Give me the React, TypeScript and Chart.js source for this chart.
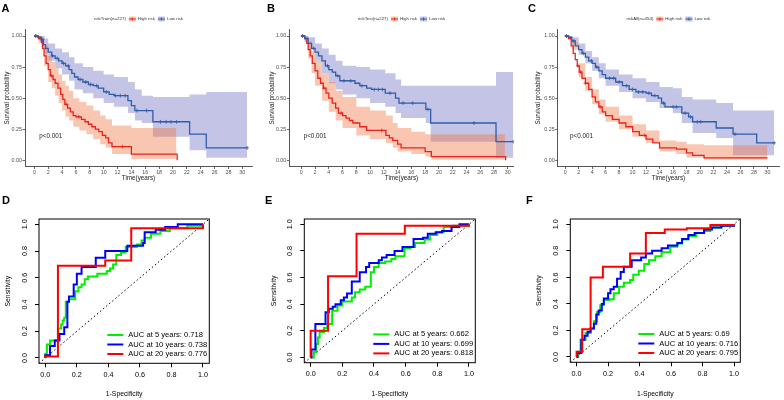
import React, { useEffect, useRef } from "react";
import { Chart, registerables } from "chart.js";

Chart.register(...registerables);

const FONT = "'Liberation Sans', Arial, Helvetica, sans-serif";
Chart.defaults.font.family = FONT;

// ---------- tick labels ----------
const kmXTicks = [0, 2, 4, 6, 8, 10, 12, 14, 16, 18, 20, 22, 24, 26, 28, 30];
const kmYTicks = [0, 0.25, 0.5, 0.75, 1];
const rocTicks = [0, 0.2, 0.4, 0.6, 0.8, 1.0];

// ---------- text ----------
const panelLetters = ["A", "B", "C", "D", "E", "F"];
const groupLabels = ["High risk", "Low risk"];
const kmTitles = ["riskTrain(n=227)", "riskTest(n=227)", "riskAll(n=454)"];
const pvalText = "p<0.001";
const rocLabelsD = ["AUC at 5 years: 0.718", "AUC at 10 years: 0.738", "AUC at 20 years: 0.776"];
const rocLabelsE = ["AUC at 5 years: 0.662", "AUC at 10 years: 0.699", "AUC at 20 years: 0.818"];
const rocLabelsF = ["AUC at 5 years: 0.69", "AUC at 10 years: 0.716", "AUC at 20 years: 0.795"];

// ---------- KM panel A (train) ----------
const aHighT = [0, 0.6, 1.0, 1.2, 1.4, 1.7, 2.0, 2.3, 2.7, 3.0, 3.4, 3.8, 4.1, 4.4, 4.8, 5.2, 5.6, 6.0, 6.8, 7.3, 7.8, 8.3, 8.8, 9.3, 9.8, 10.3, 10.7, 11.2, 14.0, 20.5, 20.6];
const aHighS = [1.0, 0.98, 0.95, 0.9, 0.84, 0.78, 0.73, 0.68, 0.65, 0.62, 0.58, 0.53, 0.49, 0.45, 0.42, 0.39, 0.36, 0.35, 0.33, 0.31, 0.29, 0.27, 0.25, 0.23, 0.2, 0.18, 0.14, 0.11, 0.05, 0.05, 0.0];
const aHighCens = [0.2, 2.5, 4.6, 6.4, 12.7];
const aHighCiT = [0, 0.6, 1.0, 1.4, 2.0, 2.5, 3.0, 3.5, 4.0, 4.5, 5.0, 5.6, 6.5, 7.5, 8.5, 9.5, 10.3, 11.2, 14.0, 20.5];
const aHighUp = [1.0, 1.0, 0.99, 0.93, 0.84, 0.79, 0.74, 0.69, 0.64, 0.6, 0.56, 0.5, 0.47, 0.44, 0.4, 0.36, 0.33, 0.28, 0.26, 0.26];
const aHighLo = [1.0, 0.95, 0.91, 0.76, 0.63, 0.58, 0.52, 0.46, 0.4, 0.35, 0.32, 0.27, 0.24, 0.21, 0.17, 0.13, 0.1, 0.05, 0.01, 0.01];
const aLowT = [0, 0.5, 1.0, 1.3, 1.6, 2.0, 2.5, 3.0, 3.5, 4.0, 4.5, 5.0, 5.4, 5.8, 6.3, 7.0, 7.8, 8.5, 9.2, 10.0, 10.8, 11.5, 13.5, 14.0, 14.5, 17.1, 22.4, 24.8, 30.7];
const aLowS = [1.0, 0.99, 0.97, 0.93, 0.9, 0.87, 0.84, 0.82, 0.8, 0.78, 0.76, 0.73, 0.7, 0.67, 0.65, 0.63, 0.61, 0.6, 0.58, 0.55, 0.53, 0.52, 0.48, 0.44, 0.4, 0.31, 0.21, 0.1, 0.1];
const aLowCens = [0.2, 1.2, 2.6, 3.3, 4.2, 4.9, 6.6, 7.4, 8.1, 9.0, 10.4, 11.7, 12.4, 13.1, 14.8, 16.2, 18.2, 19.0, 19.7, 20.5, 30.7];
const aLowCiT = [0, 0.5, 1.0, 1.5, 2.0, 3.0, 4.0, 5.0, 5.8, 7.0, 8.5, 10.0, 11.5, 13.5, 14.5, 15.5, 17.1, 22.4, 24.8, 30.7];
const aLowUp = [1.0, 1.0, 1.0, 0.98, 0.94, 0.9, 0.87, 0.83, 0.78, 0.75, 0.72, 0.69, 0.67, 0.63, 0.57, 0.52, 0.51, 0.53, 0.55, 0.55];
const aLowLo = [1.0, 0.97, 0.93, 0.86, 0.8, 0.74, 0.69, 0.64, 0.57, 0.54, 0.5, 0.46, 0.43, 0.38, 0.32, 0.3, 0.19, 0.08, 0.02, 0.02];

// ---------- KM panel B (test) ----------
const bHighT = [0, 0.5, 0.8, 1.0, 1.3, 1.6, 2.0, 2.4, 2.8, 3.2, 3.6, 4.0, 4.5, 5.0, 5.4, 6.0, 6.5, 7.0, 7.5, 8.5, 9.5, 12.3, 12.8, 13.3, 14.0, 14.5, 18.0, 18.9, 29.6, 29.7];
const bHighS = [1.0, 0.98, 0.94, 0.89, 0.84, 0.78, 0.72, 0.66, 0.62, 0.58, 0.54, 0.5, 0.46, 0.42, 0.38, 0.36, 0.34, 0.32, 0.3, 0.27, 0.24, 0.2, 0.18, 0.16, 0.13, 0.1, 0.07, 0.03, 0.03, 0.0];
const bHighCens = [0.2, 3.3, 5.8, 11.7];
const bHighCiT = [0, 0.5, 1.0, 1.5, 2.0, 3.0, 4.0, 5.0, 6.0, 8.0, 10.0, 12.3, 13.3, 14.0, 16.0, 18.0, 18.9, 29.6];
const bHighUp = [1.0, 1.0, 0.96, 0.88, 0.8, 0.7, 0.63, 0.56, 0.51, 0.43, 0.4, 0.36, 0.3, 0.26, 0.23, 0.21, 0.21, 0.21];
const bHighLo = [1.0, 0.95, 0.82, 0.7, 0.6, 0.48, 0.39, 0.32, 0.26, 0.2, 0.17, 0.14, 0.1, 0.07, 0.05, 0.03, 0.005, 0.005];
const bLowT = [0, 0.5, 1.0, 1.5, 2.0, 2.5, 3.0, 3.5, 4.0, 4.5, 5.0, 5.6, 7.8, 8.5, 9.5, 10.2, 12.2, 13.7, 14.2, 18.1, 18.8, 28.3, 30.8];
const bLowS = [1.0, 0.98, 0.94, 0.9, 0.87, 0.84, 0.8, 0.76, 0.73, 0.71, 0.68, 0.64, 0.62, 0.6, 0.58, 0.57, 0.54, 0.5, 0.46, 0.41, 0.3, 0.15, 0.15];
const bLowCens = [0.2, 1.8, 3.8, 5.3, 6.2, 7.2, 8.8, 10.6, 11.2, 11.8, 12.9, 14.8, 16.2, 18.4, 25.1, 30.8];
const bLowCiT = [0, 0.5, 1.0, 2.0, 3.0, 4.0, 5.0, 6.0, 8.0, 10.0, 12.2, 13.7, 14.5, 18.1, 18.8, 28.3, 30.8];
const bLowUp = [1.0, 1.0, 0.99, 0.94, 0.9, 0.85, 0.8, 0.76, 0.75, 0.73, 0.7, 0.65, 0.6, 0.6, 0.6, 0.71, 0.71];
const bLowLo = [1.0, 0.96, 0.89, 0.8, 0.7, 0.62, 0.57, 0.53, 0.5, 0.46, 0.43, 0.38, 0.34, 0.3, 0.15, 0.02, 0.02];

// ---------- KM panel C (all) ----------
const cHighT = [0, 0.5, 0.9, 1.2, 1.5, 1.8, 2.1, 2.5, 3.0, 3.5, 4.0, 4.5, 5.0, 5.5, 6.0, 7.0, 8.0, 9.0, 10.0, 11.0, 12.0, 13.0, 14.0, 16.5, 18.0, 18.9, 20.6, 30.0];
const cHighS = [1.0, 0.98, 0.92, 0.86, 0.81, 0.76, 0.71, 0.66, 0.62, 0.57, 0.51, 0.47, 0.43, 0.39, 0.36, 0.33, 0.3, 0.27, 0.23, 0.2, 0.17, 0.14, 0.1, 0.09, 0.06, 0.04, 0.02, 0.02];
const cHighCens = [0.2, 1.9, 2.3, 3.0, 5.2, 11.8];
const cHighCiT = [0, 0.5, 1.0, 2.0, 3.0, 4.0, 5.0, 6.0, 8.0, 10.0, 12.0, 14.0, 16.5, 18.0, 20.6, 30.0];
const cHighUp = [1.0, 1.0, 0.95, 0.78, 0.67, 0.57, 0.49, 0.43, 0.36, 0.29, 0.24, 0.16, 0.15, 0.13, 0.12, 0.12];
const cHighLo = [1.0, 0.97, 0.89, 0.67, 0.56, 0.45, 0.37, 0.31, 0.25, 0.19, 0.14, 0.07, 0.05, 0.02, 0.005, 0.005];
const cLowT = [0, 0.5, 1.0, 1.5, 2.0, 2.5, 3.0, 3.5, 4.0, 4.5, 5.0, 5.5, 6.0, 7.5, 8.5, 9.5, 10.5, 12.0, 12.8, 13.8, 14.3, 14.8, 17.3, 18.3, 18.9, 22.4, 24.9, 28.4, 31.0];
const cLowS = [1.0, 0.99, 0.96, 0.92, 0.89, 0.86, 0.83, 0.8, 0.78, 0.75, 0.72, 0.69, 0.66, 0.63, 0.6, 0.57, 0.55, 0.54, 0.52, 0.5, 0.46, 0.43, 0.38, 0.35, 0.31, 0.26, 0.21, 0.14, 0.14];
const cLowCens = [0.2, 1.3, 2.7, 3.9, 4.7, 6.6, 7.2, 8.0, 9.1, 10.0, 10.9, 11.5, 12.4, 13.3, 14.6, 16.0, 16.5, 17.8, 18.6, 19.6, 20.1, 25.2, 31.0];
const cLowCiT = [0, 0.5, 1.0, 2.0, 3.0, 4.0, 5.0, 6.0, 8.0, 10.0, 12.0, 14.0, 16.0, 17.3, 18.9, 22.4, 24.9, 28.4, 31.0];
const cLowUp = [1.0, 1.0, 0.99, 0.94, 0.88, 0.83, 0.78, 0.73, 0.69, 0.66, 0.63, 0.59, 0.58, 0.51, 0.49, 0.46, 0.4, 0.4, 0.4];
const cLowLo = [1.0, 0.98, 0.93, 0.85, 0.78, 0.72, 0.66, 0.6, 0.55, 0.5, 0.47, 0.42, 0.38, 0.3, 0.22, 0.18, 0.04, 0.04, 0.04];

// ---------- ROC panel D ----------
const dGreenX = [0, 0, 0.01, 0.03, 0.08, 0.1, 0.11, 0.12, 0.13, 0.15, 0.19, 0.21, 0.23, 0.25, 0.27, 0.33, 0.39, 0.41, 0.43, 0.45, 0.48, 0.51, 0.58, 0.61, 0.63, 0.67, 0.73, 0.79, 0.9, 1.0];
const dGreenY = [0, 0.03, 0.1, 0.13, 0.22, 0.25, 0.28, 0.3, 0.42, 0.44, 0.5, 0.53, 0.55, 0.59, 0.61, 0.63, 0.65, 0.67, 0.7, 0.77, 0.79, 0.83, 0.85, 0.88, 0.9, 0.93, 0.95, 0.97, 0.99, 1.0];
const dBlueX = [0, 0, 0.03, 0.06, 0.09, 0.12, 0.14, 0.15, 0.18, 0.2, 0.23, 0.32, 0.38, 0.52, 0.62, 0.63, 0.7, 0.76, 0.84, 1.0];
const dBlueY = [0, 0.02, 0.09, 0.13, 0.18, 0.23, 0.42, 0.46, 0.55, 0.63, 0.68, 0.75, 0.8, 0.84, 0.86, 0.94, 0.96, 0.98, 1.0, 1.0];
const dRedX = [0, 0, 0.08, 0.38, 0.545, 1.0];
const dRedY = [0, 0.01, 0.69, 0.73, 0.97, 1.0];

// ---------- ROC panel E ----------
const eGreenX = [0, 0.02, 0.035, 0.046, 0.057, 0.084, 0.105, 0.136, 0.17, 0.2, 0.26, 0.28, 0.31, 0.345, 0.38, 0.4, 0.43, 0.47, 0.51, 0.535, 0.593, 0.63, 0.66, 0.72, 0.755, 0.8, 0.84, 0.9, 1.0];
const eGreenY = [0, 0.04, 0.1, 0.15, 0.19, 0.22, 0.25, 0.35, 0.39, 0.42, 0.45, 0.49, 0.51, 0.53, 0.64, 0.68, 0.71, 0.72, 0.74, 0.76, 0.82, 0.83, 0.86, 0.885, 0.92, 0.94, 0.98, 0.99, 1.0];
const eBlueX = [0, 0.005, 0.03, 0.094, 0.115, 0.14, 0.157, 0.19, 0.21, 0.23, 0.26, 0.31, 0.35, 0.37, 0.43, 0.45, 0.48, 0.53, 0.58, 0.65, 0.71, 0.74, 0.79, 0.83, 0.89, 0.94, 1.0];
const eBlueY = [0, 0.06, 0.25, 0.34, 0.365, 0.38, 0.4, 0.43, 0.45, 0.48, 0.57, 0.64, 0.68, 0.71, 0.73, 0.75, 0.77, 0.8, 0.83, 0.89, 0.9, 0.93, 0.94, 0.95, 0.98, 1.0, 1.0];
const eRedX = [0, 0, 0.11, 0.29, 0.595, 1.0];
const eRedY = [0, 0.2, 0.61, 0.93, 0.99, 1.0];

// ---------- ROC panel F ----------
const fGreenX = [0, 0.01, 0.025, 0.057, 0.089, 0.11, 0.13, 0.15, 0.173, 0.21, 0.236, 0.27, 0.3, 0.34, 0.36, 0.395, 0.43, 0.46, 0.5, 0.54, 0.595, 0.64, 0.67, 0.71, 0.76, 0.81, 0.85, 0.92, 1.0];
const fGreenY = [0, 0.04, 0.13, 0.18, 0.215, 0.27, 0.34, 0.39, 0.43, 0.435, 0.48, 0.53, 0.56, 0.58, 0.62, 0.65, 0.7, 0.73, 0.76, 0.79, 0.83, 0.855, 0.885, 0.91, 0.935, 0.95, 0.975, 0.99, 1.0];
const fBlueX = [0, 0.005, 0.03, 0.05, 0.07, 0.089, 0.11, 0.125, 0.14, 0.16, 0.173, 0.2, 0.215, 0.236, 0.257, 0.28, 0.3, 0.35, 0.41, 0.44, 0.48, 0.54, 0.58, 0.64, 0.67, 0.71, 0.75, 0.81, 0.86, 0.92, 1.0];
const fBlueY = [0, 0.03, 0.13, 0.16, 0.19, 0.215, 0.25, 0.32, 0.35, 0.4, 0.44, 0.48, 0.51, 0.53, 0.59, 0.64, 0.68, 0.73, 0.75, 0.78, 0.8, 0.82, 0.84, 0.86, 0.89, 0.92, 0.935, 0.96, 0.975, 0.99, 1.0];
const fRedX = [0, 0, 0.036, 0.089, 0.167, 0.34, 0.44, 0.56, 0.7, 0.85, 1.0];
const fRedY = [0, 0.04, 0.21, 0.6, 0.68, 0.78, 0.935, 0.96, 0.97, 0.995, 1.0];

// reference diagonal (spans the whole plot box)
const diagX = [-0.04, 1.04];
const diagY = [-0.04, 1.04];

// ---------- colours ----------
const KM_RED = "#E8231F";
const KM_BLUE = "#2F5DAA";
const BAND_RED = "rgba(240,115,60,0.40)";
const BAND_BLUE = "rgba(60,62,172,0.30)";
const ROC_COLORS = ["#00EE00", "#0000FF", "#FF0000"];

const pts = (xs: number[], ys: number[]) => xs.map((x, i) => ({ x, y: ys[i] }));

// value of a step (Kaplan-Meier) curve at time t
const survAt = (T: number[], S: number[], t: number) => {
  let v = S[0];
  for (let i = 0; i < T.length; i++) if (T[i] <= t) v = S[i];
  return v;
};

type KMPanel = {
  title: string;
  high: [number[], number[]];
  highCens: number[];
  highCi: [number[], number[], number[]];
  low: [number[], number[]];
  lowCens: number[];
  lowCi: [number[], number[], number[]];
  xmin: number;
  xmax: number;
  yWidth: number;
  padRight: number;
  yTitlePad: number;
  pvalX: number;
};

const kmExtras = {
  id: "kmExtras",
  afterDraw(chart: any, _args: any, opts: any) {
    const { ctx, chartArea, scales } = chart;
    ctx.save();
    // p-value
    ctx.font = `6.3px ${FONT}`;
    ctx.fillStyle = "#222";
    ctx.textBaseline = "middle";
    ctx.textAlign = "left";
    ctx.fillText(pvalText, scales.x.getPixelForValue(opts.pvalX), scales.y.getPixelForValue(0.195));
    // legend
    ctx.font = `4.4px ${FONT}`;
    const sw = 7;
    const items = [
      { text: groupLabels[0], line: KM_RED, band: BAND_RED },
      { text: groupLabels[1], line: KM_BLUE, band: BAND_BLUE },
    ];
    const titleW = ctx.measureText(opts.title).width;
    let total = titleW;
    items.forEach((it) => (total += 3 + sw + 2 + ctx.measureText(it.text).width));
    let x = (chartArea.left + chartArea.right) / 2 - total / 2;
    const y = 19;
    ctx.fillStyle = "#333";
    ctx.fillText(opts.title, x, y);
    x += titleW;
    items.forEach((it) => {
      x += 3;
      ctx.fillStyle = it.band;
      ctx.fillRect(x, y - 2.5, sw, 5);
      ctx.strokeStyle = it.line;
      ctx.lineWidth = 1;
      ctx.beginPath();
      ctx.moveTo(x, y);
      ctx.lineTo(x + sw, y);
      ctx.moveTo(x + sw / 2, y - 1.5);
      ctx.lineTo(x + sw / 2, y + 1.5);
      ctx.stroke();
      x += sw + 2;
      ctx.fillStyle = "#333";
      ctx.fillText(it.text, x, y);
      x += ctx.measureText(it.text).width;
    });
    ctx.restore();
  },
};

function kmConfig(p: KMPanel): any {
  const line = (d: [number[], number[]], color: string, label: string, order: number) => ({
    label,
    data: pts(d[0], d[1]),
    borderColor: color,
    borderWidth: 1.3,
    stepped: "before",
    pointRadius: 0,
    fill: false,
    order,
  });
  const cens = (d: [number[], number[]], times: number[], color: string, order: number) => ({
    data: times.map((t) => ({ x: t, y: survAt(d[0], d[1], t) })),
    showLine: false,
    pointStyle: "cross",
    pointRadius: 1.9,
    pointBorderWidth: 0.8,
    borderColor: color,
    pointBorderColor: color,
    fill: false,
    order,
  });
  const bandUp = (d: [number[], number[], number[]], order: number) => ({
    data: pts(d[0], d[1]),
    borderColor: "transparent",
    borderWidth: 0,
    stepped: "before",
    pointRadius: 0,
    fill: false,
    order,
  });
  const bandLo = (d: [number[], number[], number[]], color: string, order: number) => ({
    data: pts(d[0], d[2]),
    borderColor: "transparent",
    borderWidth: 0,
    stepped: "before",
    pointRadius: 0,
    fill: "-1",
    backgroundColor: color,
    order,
  });
  return {
    type: "line",
    data: {
      datasets: [
        line(p.high, KM_RED, groupLabels[0], 1),
        line(p.low, KM_BLUE, groupLabels[1], 0),
        bandUp(p.lowCi, 3),
        bandLo(p.lowCi, BAND_BLUE, 3),
        bandUp(p.highCi, 2),
        bandLo(p.highCi, BAND_RED, 2),
        cens(p.high, p.highCens, KM_RED, 1),
        cens(p.low, p.lowCens, KM_BLUE, 0),
      ],
    },
    options: {
      responsive: false,
      animation: false,
      devicePixelRatio: 1,
      layout: { padding: { left: 0, top: 29.8, right: p.padRight, bottom: 0 } },
      plugins: {
        legend: { display: false },
        tooltip: { enabled: false },
        kmExtras: { title: p.title, pvalX: p.pvalX },
      },
      scales: {
        x: {
          type: "linear",
          min: p.xmin,
          max: p.xmax,
          afterBuildTicks: (s: any) => {
            s.ticks = kmXTicks.map((v) => ({ value: v }));
          },
          afterFit: (s: any) => {
            s.height = 33.5;
          },
          grid: { display: true, drawOnChartArea: false, drawTicks: true, tickLength: 2.5, color: "#444", lineWidth: 0.8 },
          border: { display: true, color: "#555", width: 1 },
          ticks: { font: { size: 5.3 }, color: "#4d4d4d", padding: 0.8, maxRotation: 0, autoSkip: false, callback: (v: any) => String(v) },
          title: { display: true, text: "Time(years)", font: { size: 6.3 }, color: "#222", padding: { top: 0, bottom: 18.2 } },
        },
        y: {
          type: "linear",
          min: -0.05,
          max: 1.05,
          afterBuildTicks: (s: any) => {
            s.ticks = kmYTicks.map((v) => ({ value: v }));
          },
          afterFit: (s: any) => {
            s.width = p.yWidth;
          },
          grid: { display: true, drawOnChartArea: false, drawTicks: true, tickLength: 2.5, color: "#444", lineWidth: 0.8 },
          border: { display: true, color: "#555", width: 1 },
          ticks: { font: { size: 5.3 }, color: "#4d4d4d", padding: 0.6, callback: (v: any) => Number(v).toFixed(2) },
          title: { display: true, text: "Survival probability", font: { size: 6.3 }, color: "#222", padding: { top: p.yTitlePad, bottom: 0 } },
        },
      },
    },
    plugins: [kmExtras],
  };
}

type ROCPanel = {
  green: [number[], number[]];
  blue: [number[], number[]];
  red: [number[], number[]];
  labels: string[];
  yWidth: number;
  xHeight: number;
  padRight: number;
  yTitlePad: number;
};

const rocExtras = {
  id: "rocExtras",
  afterDraw(chart: any, _args: any, opts: any) {
    const { ctx, chartArea } = chart;
    ctx.save();
    ctx.strokeStyle = "#000";
    ctx.lineWidth = 1;
    ctx.strokeRect(chartArea.left, chartArea.top, chartArea.right - chartArea.left, chartArea.bottom - chartArea.top);
    ctx.font = `7.6px ${FONT}`;
    ctx.textBaseline = "middle";
    ctx.textAlign = "left";
    opts.labels.forEach((t: string, i: number) => {
      const y = chartArea.bottom - 28.3 + i * 9.5;
      ctx.strokeStyle = ROC_COLORS[i];
      ctx.lineWidth = 2;
      ctx.beginPath();
      ctx.moveTo(chartArea.right - 102, y);
      ctx.lineTo(chartArea.right - 86, y);
      ctx.stroke();
      ctx.fillStyle = "#000";
      ctx.fillText(t, chartArea.right - 81, y);
    });
    ctx.restore();
  },
};

function rocConfig(p: ROCPanel): any {
  const curve = (d: [number[], number[]], color: string, order: number) => ({
    data: pts(d[0], d[1]),
    borderColor: color,
    borderWidth: 2,
    stepped: "before",
    pointRadius: 0,
    fill: false,
    order,
  });
  const scaleBase = {
    type: "linear",
    min: -0.04,
    max: 1.04,
    afterBuildTicks: (s: any) => {
      s.ticks = rocTicks.map((v) => ({ value: v }));
    },
    grid: { display: true, drawOnChartArea: false, drawTicks: true, tickLength: 4, color: "#000", lineWidth: 1 },
    border: { display: false },
  };
  return {
    type: "line",
    data: {
      datasets: [
        { data: pts(diagX, diagY), borderColor: "#000", borderWidth: 1, borderDash: [1.5, 2.5], pointRadius: 0, fill: false, order: 3 },
        curve(p.green, ROC_COLORS[0], 2),
        curve(p.blue, ROC_COLORS[1], 1),
        curve(p.red, ROC_COLORS[2], 0),
      ],
    },
    options: {
      responsive: false,
      animation: false,
      devicePixelRatio: 1,
      layout: { padding: { left: 0, top: 19, right: p.padRight, bottom: 0 } },
      plugins: {
        legend: { display: false },
        tooltip: { enabled: false },
        rocExtras: { labels: p.labels },
      },
      scales: {
        x: {
          ...scaleBase,
          afterFit: (s: any) => {
            s.height = p.xHeight;
          },
          ticks: { font: { size: 7.2 }, color: "#000", padding: 3.4, maxRotation: 0, autoSkip: false, callback: (v: any) => Number(v).toFixed(1) },
          title: { display: true, text: "1-Specificity", font: { size: 6.8 }, color: "#000", padding: { top: 0, bottom: 2 } },
        },
        y: {
          ...scaleBase,
          afterFit: (s: any) => {
            s.width = p.yWidth;
          },
          ticks: { font: { size: 7.2 }, color: "#000", padding: 5, minRotation: 90, maxRotation: 90, crossAlign: "center", autoSkip: false, callback: (v: any) => Number(v).toFixed(1) },
          title: { display: true, text: "Sensitivity", font: { size: 6.8 }, color: "#000", padding: { top: p.yTitlePad, bottom: 0 } },
        },
      },
    },
    plugins: [rocExtras],
  };
}

function ChartBox({ make, left, top, width, height }: { make: () => any; left: number; top: number; width: number; height: number }) {
  const ref = useRef<HTMLCanvasElement>(null);
  useEffect(() => {
    const chart = new Chart(ref.current as HTMLCanvasElement, make());
    return () => chart.destroy();
  }, []);
  return <canvas ref={ref} width={width} height={height} style={{ position: "absolute", left, top, width, height }} />;
}

const kmA: KMPanel = { title: kmTitles[0], high: [aHighT, aHighS], highCens: aHighCens, highCi: [aHighCiT, aHighUp, aHighLo], low: [aLowT, aLowS], lowCens: aLowCens, lowCi: [aLowCiT, aLowUp, aLowLo], xmin: -1.35, xmax: 31.4, yWidth: 25, padRight: 10, yTitlePad: 3.2, pvalX: 0.7 };
const kmB: KMPanel = { title: kmTitles[1], high: [bHighT, bHighS], highCens: bHighCens, highCi: [bHighCiT, bHighUp, bHighLo], low: [bLowT, bLowS], lowCens: bLowCens, lowCi: [bLowCiT, bLowUp, bLowLo], xmin: -1.74, xmax: 30.87, yWidth: 27.3, padRight: 10.3, yTitlePad: 6.2, pvalX: 0.35 };
const kmC: KMPanel = { title: kmTitles[2], high: [cHighT, cHighS], highCens: cHighCens, highCi: [cHighCiT, cHighUp, cHighLo], low: [cLowT, cLowS], lowCens: cLowCens, lowCi: [cLowCiT, cLowUp, cLowLo], xmin: -1.1, xmax: 31.74, yWidth: 35.7, padRight: 0, yTitlePad: 12, pvalX: 0.73 };

const rocD: ROCPanel = { green: [dGreenX, dGreenY], blue: [dBlueX, dBlueY], red: [dRedX, dRedY], labels: rocLabelsD, yWidth: 39, xHeight: 36.7, padRight: 52.7, yTitlePad: 4.2 };
const rocE: ROCPanel = { green: [eGreenX, eGreenY], blue: [eBlueX, eBlueY], red: [eRedX, eRedY], labels: rocLabelsE, yWidth: 42.3, xHeight: 37.3, padRight: 48.7, yTitlePad: 7.6 };
const rocF: ROCPanel = { green: [fGreenX, fGreenY], blue: [fBlueX, fBlueY], red: [fRedX, fRedY], labels: rocLabelsF, yWidth: 48.3, xHeight: 37.7, padRight: 43.7, yTitlePad: 13.2 };

const letterPos = [
  [1.5, 2.5],
  [267, 2.5],
  [528, 2.5],
  [2, 195],
  [265, 195],
  [526, 195],
];

export default function App() {
  return (
    <div style={{ position: "absolute", left: 0, top: 0, width: 784, height: 400, background: "#fff", overflow: "hidden" }}>
      <ChartBox make={() => kmConfig(kmA)} left={0} top={0} width={262} height={200} />
      <ChartBox make={() => kmConfig(kmB)} left={262} top={0} width={262} height={200} />
      <ChartBox make={() => kmConfig(kmC)} left={522} top={0} width={262} height={200} />
      <ChartBox make={() => rocConfig(rocD)} left={0} top={200} width={262} height={200} />
      <ChartBox make={() => rocConfig(rocE)} left={262} top={200} width={262} height={200} />
      <ChartBox make={() => rocConfig(rocF)} left={522} top={200} width={262} height={200} />
      {panelLetters.map((l, i) => (
        <div
          key={l}
          style={{ position: "absolute", left: letterPos[i][0], top: letterPos[i][1], fontFamily: FONT, fontSize: 11, fontWeight: "bold", lineHeight: "11px", color: "#000" }}
        >
          {l}
        </div>
      ))}
    </div>
  );
}
